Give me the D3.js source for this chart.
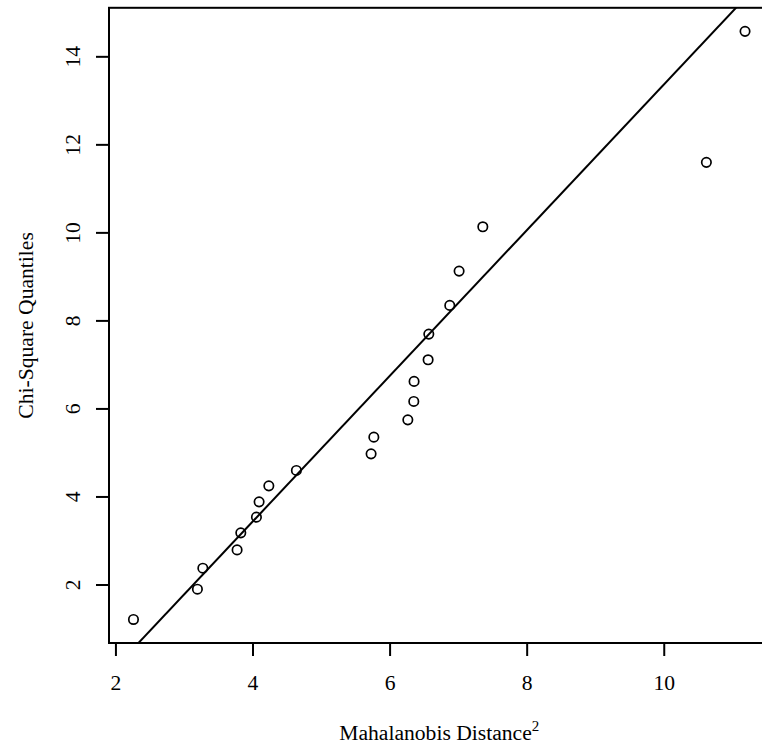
<!DOCTYPE html>
<html><head><meta charset="utf-8">
<script src="https://cdn.jsdelivr.net/npm/d3@7"></script>
<style>html,body{margin:0;padding:0;background:#fff;}</style>
</head><body>
<script>
const mahalanobisD2 = [2.263,3.196,3.275,3.775,3.829,4.057,4.096,4.238,4.640,5.730,5.770,6.266,6.353,6.357,6.562,6.572,6.878,7.014,7.360,10.622,11.186];
const chiSqQuantiles = [1.205,1.893,2.370,2.786,3.173,3.530,3.877,4.241,4.591,4.968,5.348,5.741,6.159,6.614,7.105,7.689,8.341,9.120,10.127,11.591,14.568];
const xTicks = [2,4,6,8,10];
const yTicks = [2,4,6,8,10,12,14];
const refIntercept = -3.196, refSlope = 1.6553;

const W = 762, H = 747;
const pL = 109, pR = 769.5, pT = 7.8, pB = 643;
const FS = 21.6;
function ext(a){const [mn,mx]=d3.extent(a);const e=(mx-mn)*0.04;return [mn-e,mx+e];}
const x = d3.scaleLinear().domain(ext(mahalanobisD2)).range([pL,pR]);
const y = d3.scaleLinear().domain(ext(chiSqQuantiles)).range([pB,pT]);

const svg = d3.select("body").append("svg").attr("width",W).attr("height",H)
  .style("font-family","'Liberation Serif','Times New Roman',serif");

svg.append("defs").append("clipPath").attr("id","clip")
  .append("rect").attr("x",pL).attr("y",pT).attr("width",pR-pL).attr("height",pB-pT);

// reference line
const [x0,x1] = x.domain();
svg.append("line").attr("clip-path","url(#clip)")
  .attr("x1",x(x0)).attr("y1",y(refIntercept+refSlope*x0))
  .attr("x2",x(x1)).attr("y2",y(refIntercept+refSlope*x1))
  .attr("stroke","#000").attr("stroke-width",2);

// points
svg.append("g").selectAll("circle").data(mahalanobisD2).join("circle")
  .attr("cx",(d)=>x(d)).attr("cy",(d,i)=>y(chiSqQuantiles[i])).attr("r",4.7)
  .attr("fill","none").attr("stroke","#000").attr("stroke-width",1.7);

// box
svg.append("rect").attr("x",pL).attr("y",pT).attr("width",pR-pL).attr("height",pB-pT)
  .attr("fill","none").attr("stroke","#000").attr("stroke-width",2);

// x axis
const xa = svg.append("g").attr("transform",`translate(0,${pB})`)
  .call(d3.axisBottom(x).tickValues(xTicks).tickSize(13).tickSizeOuter(0).tickPadding(19).tickFormat(d3.format("d")));
xa.select(".domain").remove();
xa.selectAll("line").attr("stroke-width",2);
xa.selectAll("text").attr("font-size",FS).attr("font-family","'Liberation Serif',serif").attr("fill","#000");

// y axis
const ya = svg.append("g").attr("transform",`translate(${pL},0)`)
  .call(d3.axisLeft(y).tickValues(yTicks).tickSize(13).tickSizeOuter(0).tickFormat(d3.format("d")));
ya.select(".domain").remove();
ya.selectAll("line").attr("stroke-width",2);
ya.selectAll(".tick text").attr("font-size",FS).attr("font-family","'Liberation Serif',serif").attr("fill","#000")
  .attr("text-anchor","middle").attr("x",0).attr("y",0).attr("dy","0.35em")
  .attr("transform","translate(-37,0) rotate(-90)");

// titles
const xt = svg.append("text").attr("x",(pL+pR)/2).attr("y",740).attr("text-anchor","middle")
  .attr("font-size",FS).attr("fill","#000");
xt.append("tspan").text("Mahalanobis Distance");
xt.append("tspan").attr("dy",-9).attr("font-size",15).text("2");

svg.append("text").attr("transform",`translate(33,${(pT+pB)/2}) rotate(-90)`)
  .attr("text-anchor","middle").attr("font-size",FS).attr("fill","#000").text("Chi-Square Quantiles");
</script>
</body></html>
